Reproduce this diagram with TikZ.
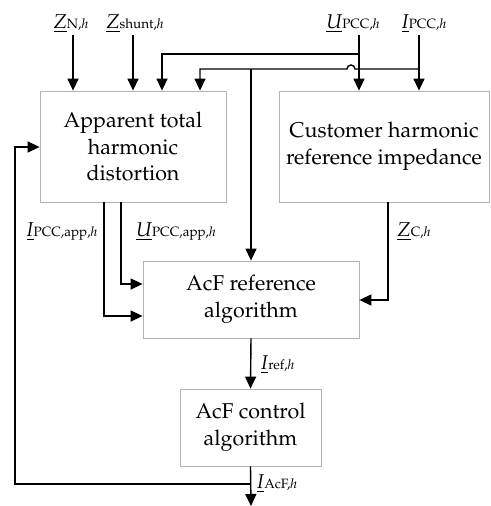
\documentclass[tikz,border=0pt]{standalone}
\usepackage[T1]{fontenc}
\usepackage{mathpazo}
\usetikzlibrary{arrows.meta}
\newcommand{\lbl}[2]{\underline{\textit{#1}}{\fontsize{13.5}{14}\selectfont #2}}
\tikzset{
  box/.style={draw=black!30, line width=0.8pt, align=center, inner sep=0pt,
    font=\fontsize{21.4}{26.5}\selectfont},
  lab/.style={inner sep=0pt, font=\fontsize{20}{22}\selectfont},
  conn/.style={line width=1.4pt},
  arr/.style={conn, -{Triangle[length=12pt,width=11pt]}},
}
\begin{document}
\begin{tikzpicture}[x=1pt,y=-1pt]
\useasboundingbox (0,0) rectangle (490,506);
% boxes
\node[box, minimum width=186pt, minimum height=111pt] (A) at (133,146.5) {Apparent total\\harmonic\\distortion};
\node[box, minimum width=210pt, minimum height=111pt] (B) at (384,146.5) {Customer harmonic\\reference impedance};
\node[box, minimum width=216pt, minimum height=77pt] (C) at (251,299.5) {AcF reference\\algorithm};
\node[box, minimum width=141pt, minimum height=77pt] (D) at (250.5,427.5) {AcF control\\algorithm};
% top labels
\node[lab] (lzn) at (71,24) {\lbl{Z}{N,\textit{h}}};
\node[lab] (lzs) at (135,24) {\lbl{Z}{shunt,\textit{h}}};
\node[lab] (lu) at (353,24) {\lbl{U}{PCC,\textit{h}}};
\node[lab] (li) at (424,24) {\lbl{I}{PCC,\textit{h}}};
% other labels
\node[lab] (lia) at (62,232) {\lbl{I}{PCC,app,\textit{h}}};
\node[lab] (lua) at (176,232) {\lbl{U}{PCC,app,\textit{h}}};
\node[lab] (lzc) at (414,232) {\lbl{Z}{C,\textit{h}}};
\node[lab, anchor=west] (lir) at (261,365) {\lbl{I}{ref,\textit{h}}};
\node[lab, anchor=west] (lia2) at (257,484) {\lbl{I}{AcF,\textit{h}}};
% coordinates
\coordinate (zn0) at (73,35);
\coordinate (zs0) at (133,35);
\coordinate (u0) at (359,35);
\coordinate (i0) at (419,35);
\coordinate (uA) at (162,54);
\coordinate (iA) at (200,69);
\coordinate (jC) at (251,69);
\coordinate (hop) at (355,69);
\coordinate (ia0) at (104,316);
\coordinate (ua0) at (121,284);
\coordinate (zc0) at (388,300);
\coordinate (out) at (251,506);
\coordinate (fb) at (251,484);
\coordinate (fbl) at (15,484);
\coordinate (fbA) at (15,147);
% connectors
\draw[arr] (zn0) -- (zn0 |- A.north);
\draw[arr] (zs0) -- (zs0 |- A.north);
\draw[arr] (u0) -- (u0 |- B.north);
\draw[arr] (i0) -- (i0 |- B.north);
\draw[arr] (u0 |- uA) -- (uA) -- (uA |- A.north);
\draw[arr] (i0 |- iA) -- (hop) arc[start angle=0,end angle=180,radius=4pt] -- (iA) -- (iA |- A.north);
\draw[arr] (jC) -- (jC |- C.north);
\draw[arr] (ia0 |- A.south) -- (ia0) -- (ia0 -| C.west);
\draw[arr] (ua0 |- A.south) -- (ua0) -- (ua0 -| C.west);
\draw[arr] (zc0 |- B.south) -- (zc0) -- (zc0 -| C.east);
\draw[arr] (C.south) -- (D.north);
\draw[arr] (D.south) -- (out);
\draw[arr] (fb) -- (fbl) -- (fbA) -- (fbA -| A.west);
\end{tikzpicture}
\end{document}
